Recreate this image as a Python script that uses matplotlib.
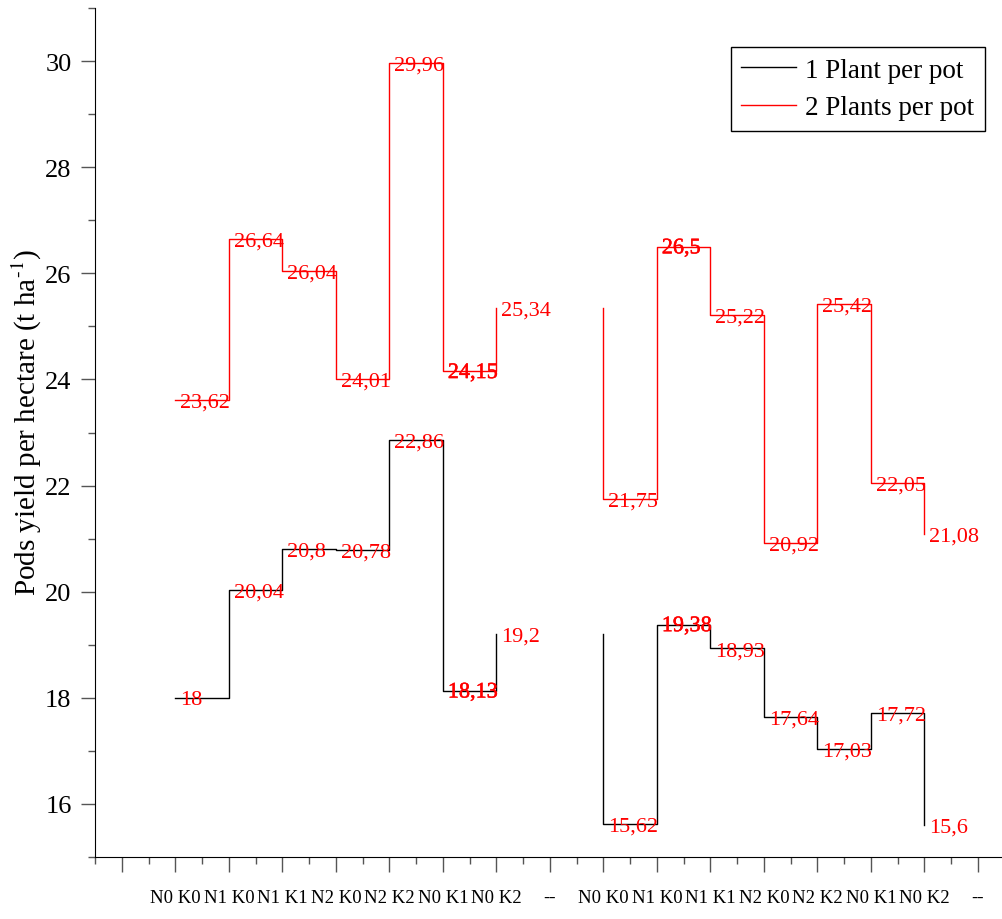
import matplotlib
matplotlib.use("Agg")
import matplotlib.pyplot as plt
import matplotlib.patheffects as pe
import numpy as np

# ===== data =====
TICK_LABELS = ["", "N0 K0", "N1 K0", "N1 K1", "N2 K0", "N2 K2", "N0 K1", "N0 K2", "--",
               "N0 K0", "N1 K0", "N1 K1", "N2 K0", "N2 K2", "N0 K1", "N0 K2", "--"]

X_GROUP1 = [1, 2, 3, 4, 5, 6, 7]
X_GROUP2 = [9, 10, 11, 12, 13, 14, 15]

ONE_PLANT_G1 = [18.0, 20.04, 20.8, 20.78, 22.86, 18.13, 19.2]
ONE_PLANT_G2 = [15.62, 19.38, 18.93, 17.64, 17.03, 17.72, 15.6]
TWO_PLANT_G1 = [23.62, 26.64, 26.04, 24.01, 29.96, 24.15, 25.34]
TWO_PLANT_G2 = [21.75, 26.5, 25.22, 20.92, 25.42, 22.05, 21.08]

SERIES_NAMES = ["1 Plant per pot", "2 Plants per pot"]

plt.rcParams['font.family'] = ['Liberation Serif', 'DejaVu Serif']
plt.rcParams['mathtext.fontset'] = 'stix'

W, H = 1003, 920
fig = plt.figure(figsize=(W / 100, H / 100), dpi=100)
ax = fig.add_axes([95.25 / W, 1 - 858 / H, 1 - 95.25 / W, (858 - 9) / H])


def draw_series(g1, g2, color, label):
    ax.step(X_GROUP1, g1, where='post', color=color, lw=1.0, label=label)
    # second block starts with a drop from the last value of the first block
    ax.step([X_GROUP2[0]] + X_GROUP2, [g1[-1]] + g2, where='post', color=color, lw=1.0)


draw_series(ONE_PLANT_G1, ONE_PLANT_G2, 'black', SERIES_NAMES[0])
draw_series(TWO_PLANT_G1, TWO_PLANT_G2, '#ff0000', SERIES_NAMES[1])

# value labels (some are drawn heavier in the original)
heavy = {(6, 24.15), (10, 26.5), (10, 19.38), (6, 18.13)}
for xs, ys in [(X_GROUP1, ONE_PLANT_G1), (X_GROUP2, ONE_PLANT_G2),
               (X_GROUP1, TWO_PLANT_G1), (X_GROUP2, TWO_PLANT_G2)]:
    for x, y in zip(xs, ys):
        txt = f"{y:g}".replace('.', ',')
        t = ax.annotate(txt, (x, y), xytext=(3.5, -1.5), textcoords='offset points',
                        ha='left', va='center', color='#ff0000', fontsize=16)
        if (x, y) in heavy:
            t.set_path_effects([pe.withStroke(linewidth=0.35, foreground='#ff0000')])

ax.set_xlim(-0.5, 16.47)
ax.set_ylim(15, 31)
ax.set_xticks(np.arange(0, 17))
ax.set_xticklabels(TICK_LABELS)
ax.set_xticks(np.arange(-0.5, 16.5, 1.0), minor=True)
ax.set_yticks(np.arange(16, 31, 2))
ax.set_yticks(np.arange(15, 32, 2), minor=True)

ax.spines['top'].set_visible(False)
ax.spines['right'].set_visible(False)
ax.tick_params(axis='x', which='major', length=11, width=1, color='#555555', labelsize=13.5, pad=12)
ax.tick_params(axis='x', which='minor', length=5, width=1, color='#555555')
ax.tick_params(axis='y', which='major', length=10, width=1, color='#555555', labelsize=19, pad=7)
ax.tick_params(axis='y', which='minor', length=5, width=1, color='#555555')

ax.set_ylabel(r'Pods yield per hectare (t ha$^{\text{-}1}$)', fontsize=21, labelpad=1)
ax.yaxis.label.set_y(0.513)

leg = ax.legend(loc='upper right', bbox_to_anchor=(985 / W, 1 - 48 / H),
                bbox_transform=fig.transFigure, borderaxespad=0, fontsize=19.5,
                fancybox=False, framealpha=1, edgecolor='black',
                handlelength=2.0, handletextpad=0.35, labelspacing=0.45,
                borderpad=0.4)
leg.get_frame().set_linewidth(1.0)

fig.savefig('out.png', dpi=100)
